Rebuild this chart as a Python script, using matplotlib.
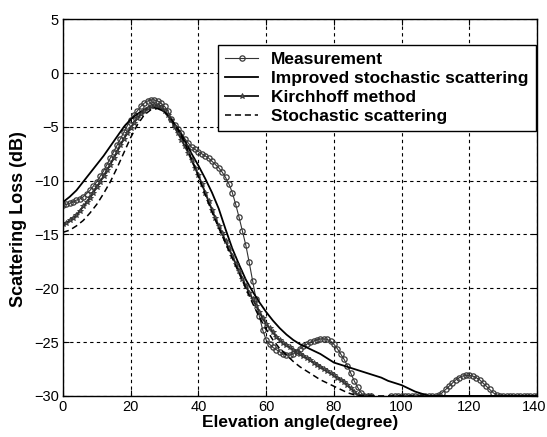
import numpy as np
import matplotlib
matplotlib.use("Agg")
import matplotlib.pyplot as plt
from matplotlib.transforms import ScaledTranslation

plt.rcParams['font.family'] = ['Liberation Sans', 'DejaVu Sans']

# Elevation angles (degree)
angles_1deg = np.arange(0, 141, 1)
angles_2deg = np.arange(0, 141, 2)

# Measurement, 1 degree steps (values under -30 fall outside the axes)
measurement = ([-12.3, -12.2, -12.1, -12.0, -11.8, -11.7, -11.5, -11.2, -10.9, -10.5,
                -10.1, -9.6, -9.1, -8.5, -7.9, -7.3, -6.7, -6.1, -5.5, -4.9,
                -4.4, -3.9, -3.5, -3.1, -2.8, -2.6, -2.5, -2.5, -2.6, -2.8,
                -3.1, -3.5, -4.3, -4.8, -5.2, -5.6, -6.1, -6.5, -6.9, -7.1,
                -7.3, -7.5, -7.7, -7.9, -8.2, -8.5, -8.8, -9.2, -9.7, -10.3,
                -11.1, -12.2, -13.4, -14.7, -16.0, -17.6, -19.3, -21.0, -22.6, -23.9,
                -24.8, -25.2, -25.5, -25.7, -25.9, -26.1, -26.2, -26.2, -26.1, -25.9,
                -25.6, -25.4, -25.2, -25.0, -24.9, -24.8, -24.7, -24.7, -24.75, -24.9,
                -25.2, -25.6, -26.1, -26.6, -27.2, -27.9, -28.6, -29.2, -29.7, -30.0,
                -30.0, -30.0, -31.0, -31.0, -31.0, -31.0, -31.0]
               + [-30.0] * 14
               + [-29.9, -29.7, -29.4, -29.1, -28.8, -28.5, -28.3, -28.15, -28.1, -28.1,
                  -28.15, -28.3, -28.5, -28.8, -29.1, -29.4, -29.7, -29.9]
               + [-30.0] * 12)

# Kirchhoff method, 1 degree steps
kirchhoff = ([-14.0, -13.9, -13.7, -13.5, -13.2, -12.8, -12.4, -12.0, -11.6, -11.1,
              -10.6, -10.1, -9.6, -9.0, -8.5, -7.9, -7.3, -6.7, -6.1, -5.6,
              -5.1, -4.6, -4.2, -3.8, -3.5, -3.25, -3.1, -3.0, -3.05, -3.2,
              -3.5, -3.9, -4.4, -5.0, -5.6, -6.2, -6.8, -7.4, -8.1, -8.8,
              -9.5, -10.3, -11.1, -11.9, -12.7, -13.5, -14.2, -14.9, -15.6, -16.3,
              -17.0, -17.7, -18.4, -19.1, -19.8, -20.4, -21.0, -21.6, -22.2, -22.8,
              -23.3, -23.7, -24.1, -24.5, -24.8, -25.1, -25.3, -25.5, -25.7, -25.9,
              -26.1, -26.3, -26.5, -26.7, -26.9, -27.1, -27.3, -27.5, -27.7, -27.9,
              -28.1, -28.3, -28.5, -28.7, -29.0, -29.3, -29.6, -29.9, -30.0, -30.0,
              -30.0, -30.0]
             + [-31.0] * 49)

# Improved stochastic scattering, 2 degree steps
improved = [-12.0, -11.5, -10.9, -10.1, -9.3, -8.5, -7.7, -6.8, -5.9, -5.0,
            -4.3, -3.8, -3.4, -3.2, -3.25, -3.6, -4.3, -5.2, -6.3, -7.5,
            -8.6, -9.8, -11.1, -12.6, -14.5, -16.3, -17.8, -19.2, -20.3, -21.3,
            -22.2, -23.0, -23.7, -24.3, -24.8, -25.2, -25.5, -25.8, -26.1, -26.5,
            -26.9, -27.1, -27.3, -27.5, -27.7, -27.9, -28.1, -28.3, -28.6, -28.8,
            -29.0, -29.3, -29.6, -29.8, -30.0, -30.0, -30.0, -30.0, -30.0, -30.0,
            -30.0, -30.0, -30.0, -30.0, -30.0, -30.0, -30.0, -30.0, -30.0, -30.0,
            -30.0]

# Stochastic scattering, 2 degree steps
stochastic = [-14.8, -14.6, -14.2, -13.7, -13.0, -12.2, -11.2, -10.1, -8.8, -7.4,
              -6.0, -4.8, -3.9, -3.4, -3.3, -3.6, -4.3, -5.3, -6.5, -8.0,
              -9.6, -11.3, -12.9, -14.4, -15.8, -17.2, -18.6, -20.0, -21.4, -22.7,
              -23.8, -24.8, -25.6, -26.2, -26.8, -27.3, -27.7, -28.1, -28.5, -28.8,
              -29.1, -29.4, -29.7, -29.9, -30.0, -30.0, -30.0, -30.0, -30.0, -30.0,
              -30.0, -30.0, -30.0, -30.0, -30.0, -30.0, -30.0, -30.0, -30.0, -30.0,
              -30.0, -30.0, -30.0, -30.0, -30.0, -30.0, -30.0, -30.0, -30.0, -30.0,
              -30.0]

xticks = [0, 20, 40, 60, 80, 100, 120, 140]
yticks = [-30, -25, -20, -15, -10, -5, 0, 5]

fig = plt.figure(figsize=(5.47, 4.37), dpi=100)
ax = fig.add_axes([0.115, 0.094, 0.867, 0.862])

ax.plot(angles_1deg, measurement, color='#333333', lw=0.8, marker='o', ms=3.8,
        mfc='none', mec='#3a3a3a', mew=0.9, label='Measurement')
ax.plot(angles_2deg, improved, color='black', lw=1.3, label='Improved stochastic scattering')
ax.plot(angles_1deg, kirchhoff, color='#222222', lw=1.4, marker='*', ms=4.2,
        mfc='#555555', mec='#333333', mew=0.6, label='Kirchhoff method')
ax.plot(angles_2deg, stochastic, color='black', lw=1.1, ls=(0, (4, 2.5)),
        label='Stochastic scattering')

ax.set_xlim(0, 140)
ax.set_ylim(-30, 5)
ax.set_xticks(xticks)
ax.set_yticks(yticks)
ax.tick_params(direction='in', top=True, right=True, length=4, labelsize=10.5, pad=3)
ax.grid(True, color='black', ls=(0, (3, 3)), lw=0.8)
for s in ax.spines.values():
    s.set_linewidth(1.0)

# keep the last x tick label inside the picture
last = ax.get_xticklabels()[-1]
last.set_transform(last.get_transform() + ScaledTranslation(-3 / 100, 0, fig.dpi_scale_trans))

ax.set_xlabel('Elevation angle(degree)', fontsize=12.5, fontweight='bold', labelpad=1)
ax.set_ylabel('Scattering Loss (dB)', fontsize=13, fontweight='bold')
ax.yaxis.set_label_coords(-0.075, 0.47)

leg = ax.legend(loc='upper right', bbox_to_anchor=(0.997, 0.932), fancybox=False,
                framealpha=1, edgecolor='black', prop={'weight': 'bold', 'size': 12.5},
                handlelength=1.9, labelspacing=0.22, borderpad=0.4, handletextpad=0.75,
                borderaxespad=0.0)
leg.get_frame().set_linewidth(1.0)

fig.savefig('out.png', dpi=100)
